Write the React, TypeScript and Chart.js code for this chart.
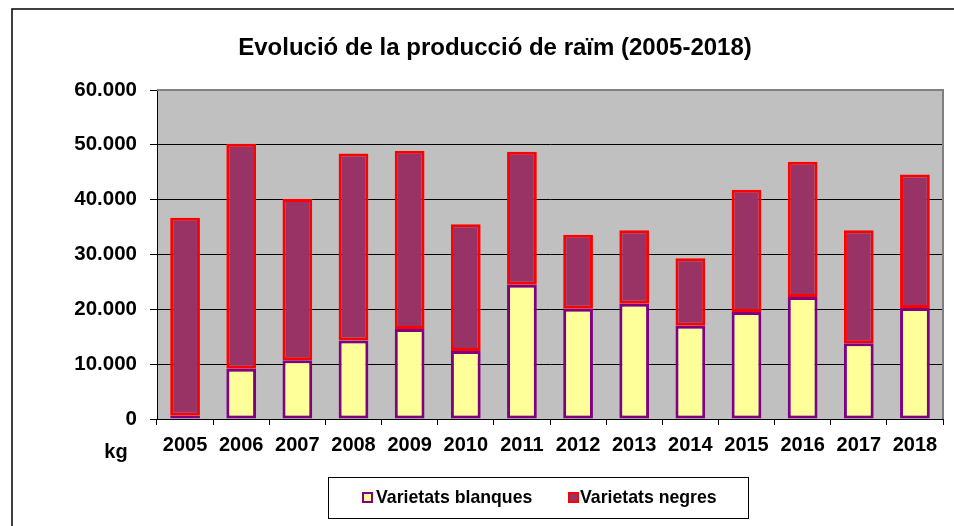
import React, { useEffect, useRef } from 'react';
import { Chart, registerables } from 'chart.js';

Chart.register(...registerables);

const TITLE = 'Evolució de la producció de raïm (2005-2018)';
const UNIT_LABEL = 'kg';
const YEARS = ['2005', '2006', '2007', '2008', '2009', '2010', '2011', '2012', '2013', '2014', '2015', '2016', '2017', '2018'];
const BLANQUES_LABEL = 'Varietats blanques';
const NEGRES_LABEL = 'Varietats negres';
const BLANQUES = [600, 9150, 10700, 14300, 16400, 12400, 24500, 20100, 21000, 17000, 19500, 22250, 13800, 20250];
const NEGRES = [36100, 41050, 29400, 34100, 32500, 23100, 24250, 13500, 13400, 12300, 22300, 24650, 20600, 24350];
const Y_MIN = 0;
const Y_MAX = 60000;
const Y_STEP = 10000;

const FONT = '"Liberation Sans", Arial, sans-serif';

const fmt = (v: number) => String(v).replace(/\B(?=(\d{3})+(?!\d))/g, '.');

const decorPlugin = {
  id: 'decor',
  beforeDraw(chart: any) {
    const { ctx, chartArea: a, width, height } = chart;
    ctx.save();
    ctx.fillStyle = '#ffffff';
    ctx.fillRect(0, 0, width, height);
    // outer frame
    ctx.strokeStyle = '#000000';
    ctx.lineWidth = 1.5;
    ctx.beginPath();
    ctx.moveTo(12, height);
    ctx.lineTo(12, 9);
    ctx.lineTo(width, 9);
    ctx.stroke();
    // plot background
    ctx.fillStyle = '#C0C0C0';
    ctx.fillRect(a.left, a.top, a.right - a.left, a.bottom - a.top);
    ctx.restore();
  },
  afterDraw(chart: any) {
    const { ctx, chartArea: a } = chart;
    ctx.save();
    // plot border top/right
    ctx.strokeStyle = '#808080';
    ctx.lineWidth = 2;
    ctx.beginPath();
    ctx.moveTo(a.left, a.top);
    ctx.lineTo(a.right, a.top);
    ctx.lineTo(a.right, a.bottom);
    ctx.stroke();
    // title
    ctx.fillStyle = '#000000';
    ctx.textAlign = 'center';
    ctx.textBaseline = 'middle';
    ctx.font = `bold 24px ${FONT}`;
    ctx.fillText(TITLE, 495, 48);
    // unit label
    ctx.font = `bold 20px ${FONT}`;
    ctx.fillText(UNIT_LABEL, 116, 452);
    // legend box
    ctx.strokeStyle = '#000000';
    ctx.lineWidth = 1;
    ctx.strokeRect(328.5, 477.5, 420, 41);
    const ds = chart.data.datasets;
    const items = [
      { x: 362, tx: 376 },
      { x: 568, tx: 580 },
    ];
    ctx.textAlign = 'left';
    ctx.font = `bold 17.7px ${FONT}`;
    items.forEach((it, i) => {
      const d = ds[i];
      ctx.fillStyle = d.backgroundColor;
      ctx.fillRect(it.x, 492, 11, 11);
      ctx.strokeStyle = d.borderColor;
      ctx.lineWidth = 2;
      ctx.strokeRect(it.x + 1, 493, 9, 9);
      ctx.fillStyle = '#000000';
      ctx.fillText(d.label, it.tx, 498.5);
    });
    ctx.restore();
  },
};

export default function App() {
  const ref = useRef<HTMLCanvasElement | null>(null);

  useEffect(() => {
    if (!ref.current) return;
    const chart = new Chart(ref.current, {
      type: 'bar',
      data: {
        labels: YEARS,
        datasets: [
          {
            label: BLANQUES_LABEL,
            data: BLANQUES,
            backgroundColor: '#FFFF99',
            borderColor: '#800080',
            borderWidth: 3,
            borderSkipped: false,
            barPercentage: 0.53,
            categoryPercentage: 1,
          },
          {
            label: NEGRES_LABEL,
            data: NEGRES,
            backgroundColor: '#993366',
            borderColor: '#FF0000',
            borderWidth: 3,
            borderSkipped: false,
            barPercentage: 0.53,
            categoryPercentage: 1,
          },
        ],
      },
      options: {
        responsive: false,
        animation: false,
        devicePixelRatio: 1,
        layout: { padding: { left: 0, right: 11, top: 90, bottom: 67 } },
        plugins: {
          legend: { display: false },
          title: { display: false },
          tooltip: { enabled: false },
        },
        scales: {
          x: {
            stacked: true,
            afterFit: (s: any) => {
              s.height = 40;
            },
            grid: {
              offset: true,
              drawOnChartArea: false,
              drawTicks: true,
              tickLength: 6,
              color: '#000000',
            },
            border: { display: true, color: '#000000', width: 1 },
            ticks: {
              color: '#000000',
              padding: 8,
              maxRotation: 0,
              autoSkip: false,
              font: { family: FONT, size: 20, weight: 'bold' },
            },
          },
          y: {
            stacked: true,
            min: Y_MIN,
            max: Y_MAX,
            afterFit: (s: any) => {
              s.width = 157;
            },
            grid: {
              color: '#000000',
              lineWidth: 1,
              drawTicks: true,
              tickLength: 7,
            },
            border: { display: true, color: '#000000', width: 1 },
            ticks: {
              stepSize: Y_STEP,
              color: '#000000',
              padding: 13,
              font: { family: FONT, size: 20.5, weight: 'bold' },
              callback: (v: any) => fmt(Number(v)),
            },
          },
        },
      },
      plugins: [decorPlugin],
    });
    return () => chart.destroy();
  }, []);

  return (
    <div style={{ position: 'fixed', left: 0, top: 0, width: 954, height: 526, background: '#fff' }}>
      <canvas ref={ref} width={954} height={526} style={{ width: 954, height: 526, display: 'block' }} />
    </div>
  );
}
